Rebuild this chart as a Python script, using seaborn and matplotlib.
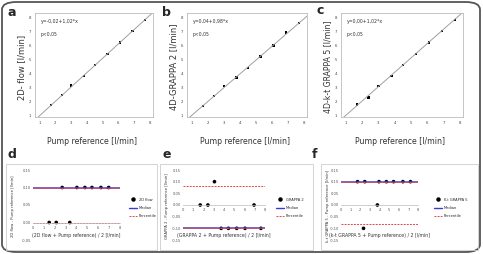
import numpy as np
import pandas as pd
import seaborn as sns
import matplotlib
matplotlib.use("Agg")
import matplotlib.pyplot as plt
from matplotlib.patches import FancyBboxPatch, Rectangle
from matplotlib.lines import Line2D

sns.set_style("white")
plt.rcParams['font.family'] = ['DejaVu Sans']

# top row: measured flow vs pump reference
pump = [1.7, 2.4, 3.0, 3.8, 4.5, 5.3, 6.1, 6.9, 7.7]
flow_2d = [1.75, 2.45, 3.15, 3.8, 4.6, 5.4, 6.2, 7.0, 7.8]
flow_grappa = [1.7, 2.4, 3.1, 3.7, 4.4, 5.2, 6.0, 6.9, 7.6]
flow_ktgrappa = [1.8, 2.3, 3.1, 3.8, 4.6, 5.4, 6.2, 7.0, 7.8]
top_letters = ['a', 'b', 'c']
top_ylabels = ['2D- flow [l/min]', '4D-GRAPPA 2 [l/min]', '4D-k-t GRAPPA 5 [l/min]']
fit_text = ['y=-0,02+1,02*x', 'y=0,04+0,98*x', 'y=0,00+1,02*x']
fit_coef = [(-0.02, 1.02), (0.04, 0.98), (0.00, 1.02)]
top_ticks = [1, 2, 3, 4, 5, 6, 7, 8]

# bottom row: Bland-Altman
d_mean = [1.5, 2.15, 2.7, 3.4, 4.06, 4.8, 5.45, 6.28, 7.0]
d_diff = [0.0, 0.0, 0.10, 0.0, 0.10, 0.10, 0.10, 0.10, 0.10]
e_mean = [1.68, 2.43, 3.07, 3.72, 4.43, 5.24, 6.05, 6.93, 7.6]
e_diff = [0.0, 0.0, 0.10, -0.10, -0.10, -0.10, -0.10, 0.0, -0.10]
f_mean = [1.72, 2.34, 2.47, 3.78, 3.95, 4.71, 5.46, 6.43, 7.22]
f_diff = [0.10, -0.10, 0.10, 0.0, 0.10, 0.10, 0.10, 0.10, 0.10]
medians = [0.10, -0.10, 0.10]
percentiles = [(0.0, 0.10), (0.08, -0.10), (0.10, -0.08)]
bot_letters = ['d', 'e', 'f']
series_names = ['2D flow', 'GRAPPA 2', 'K-t GRAPPA 5']
bot_ylabels = ['2D flow - Pump reference [l/min]', 'GRAPPA 2 - Pump reference [l/min]',
               'k-t GRAPPA 5 - Pump reference [l/min]']
bot_xlabels = ['(2D flow + Pump reference) / 2 [l/min]', '(GRAPPA 2 + Pump reference) / 2 [l/min]',
               '(k-t GRAPPA 5 + Pump reference) / 2 [l/min]']
d_yticks = [-0.05, 0.0, 0.05, 0.10, 0.15]
ef_yticks = [-0.15, -0.10, -0.05, 0.0, 0.05, 0.10, 0.15]
bot_xticks = [0, 1, 2, 3, 4, 5, 6, 7, 8]

W, H = 483, 254
fig = plt.figure(figsize=(W / 100, H / 100), dpi=100)

def box(x0, y0, x1, y1):
    # pixel box (top-left origin) -> figure fraction rect
    return [x0 / W, 1 - y1 / H, (x1 - x0) / W, (y1 - y0) / H]

def comma(v):
    return f"{v:.2f}".replace('.', ',')

# outer rounded border
fig.patches.append(FancyBboxPatch((2 / W, 2 / H), (W - 5) / W, (H - 4) / H,
                                  boxstyle="round,pad=0,rounding_size=0.03",
                                  transform=fig.transFigure, fill=False,
                                  edgecolor='#555555', linewidth=1.3))

top_boxes = [(35, 13, 153, 117), (187, 13, 307, 117), (341, 13, 463, 117)]
flows = [flow_2d, flow_grappa, flow_ktgrappa]
for i in range(3):
    ax = fig.add_axes(box(*top_boxes[i]))
    df = pd.DataFrame({'pump': pump, 'flow': flows[i]})
    a0, b0 = fit_coef[i]
    xl = np.array([0.7, 8.25])
    ax.plot(xl, a0 + b0 * xl, color='#a0a0a0', lw=0.7)
    sns.scatterplot(data=df, x='pump', y='flow', ax=ax, color='black', s=3,
                    marker='s', edgecolor='none')
    ax.set_xlim(0.7, 8.2)
    ax.set_ylim(0.9, 8.3)
    ax.set_xticks(top_ticks)
    ax.set_yticks(top_ticks)
    ax.tick_params(labelsize=2.8, length=1.2, width=0.4, pad=1.5, colors='#444444')
    for s in ax.spines.values():
        s.set_color('#bbbbbb')
        s.set_linewidth(0.6)
    ax.set_xlabel('')
    ax.set_ylabel('')
    ax.text(0.05, 0.9, fit_text[i], transform=ax.transAxes, fontsize=3.3, color='#333333')
    ax.text(0.05, 0.78, 'p<0,05', transform=ax.transAxes, fontsize=3.3, color='#333333')
    x0, y0, x1, y1 = top_boxes[i]
    fig.text((x0 - 13) / W, 1 - ((y0 + y1) / 2 + 2) / H, top_ylabels[i], rotation=90,
             fontsize=5.6 if i == 2 else 6, color='#333333', ha='center', va='center')
    fig.text(((x0 + x1) / 2 - 2) / W, 1 - 141 / H, 'Pump reference [l/min]',
             fontsize=5.6, color='#333333', ha='center', va='center')

for (lx, ly), t in zip([(12, 13), (166, 13), (320, 11)], top_letters):
    fig.text(lx / W, 1 - ly / H, t, fontsize=9, fontweight='bold', ha='center', va='center')

# bottom row
frames = [(6, 164, 157, 250), (160, 164, 313, 250), (321, 164, 478, 250)]
plot_areas = [(33, 170, 119.5, 240), (183, 170, 265, 240), (341, 170, 418, 240)]
means = [d_mean, e_mean, f_mean]
diffs = [d_diff, e_diff, f_diff]
leg_x = [133, 280, 438]
for i in range(3):
    fx0, fy0, fx1, fy1 = frames[i]
    fig.patches.append(Rectangle((fx0 / W, 1 - fy1 / H), (fx1 - fx0) / W, (fy1 - fy0) / H,
                                 transform=fig.transFigure, fill=False,
                                 edgecolor='#cccccc', linewidth=0.6))
    ax = fig.add_axes(box(*plot_areas[i]))
    ax.set_facecolor('none')
    ax.axhline(medians[i], color='#5a3cb4', lw=1.1)
    for p in percentiles[i]:
        ax.axhline(p, color='#e04848', lw=0.7, ls=(0, (2, 1.2)))
    df = pd.DataFrame({'m': means[i], 'd': diffs[i]})
    sns.scatterplot(data=df, x='m', y='d', ax=ax, color='black', s=7, edgecolor='none')
    ax.set_xlim(0, 8)
    yt = d_yticks if i == 0 else ef_yticks
    ax.set_ylim(yt[0], yt[-1])
    ax.set_yticks(yt)
    ax.set_yticklabels([comma(v) for v in yt])
    ax.set_xticks(bot_xticks)
    ax.spines['bottom'].set_position(('data', 0))
    ax.spines['bottom'].set_color('#bbbbbb')
    ax.spines['bottom'].set_linewidth(0.5)
    for s in ['top', 'right', 'left']:
        ax.spines[s].set_visible(False)
    ax.tick_params(axis='both', labelsize=2.6, colors='#555555', length=0, pad=1.5)
    ax.tick_params(axis='x', length=1, width=0.4, pad=1.2)
    ax.set_xlabel('')
    ax.set_ylabel('')
    px0, py0, px1, py1 = plot_areas[i]
    fig.text(((px0 + px1) / 2) / W, 1 - 236 / H, bot_xlabels[i], fontsize=3.3,
             color='#333333', ha='center', va='center')
    fig.text((fx0 + 7) / W, 1 - 206 / H, bot_ylabels[i], rotation=90, fontsize=2.7,
             color='#333333', ha='center', va='center')
    handles = [Line2D([], [], marker='o', color='black', ls='none', markersize=2.2),
               Line2D([], [], color='#3c3cc8', lw=1.0),
               Line2D([], [], color='#e04848', lw=0.7, ls=(0, (2, 1.2)))]
    fig.legend(handles, [series_names[i], 'Median', 'Percentile'],
               loc='center left', bbox_to_anchor=((leg_x[i] - 6) / W, 1 - 208 / H),
               frameon=False, fontsize=2.6, handlelength=2.2, labelspacing=1.2,
               handletextpad=0.6, borderpad=0)

for (lx, ly), t in zip([(12, 155), (167, 155), (315, 155)], bot_letters):
    fig.text(lx / W, 1 - ly / H, t, fontsize=9, fontweight='bold', ha='center', va='center')

fig.savefig('out.png', dpi=100)
